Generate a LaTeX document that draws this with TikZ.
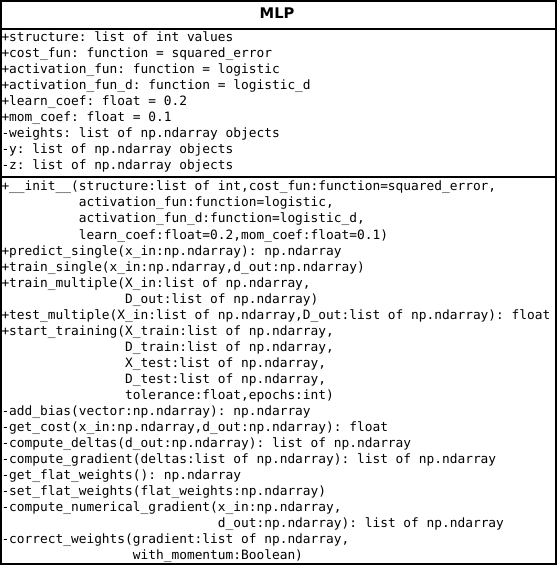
\documentclass[tikz,border=0pt]{standalone}
\usepackage{fontspec}
\setsansfont{DejaVu Sans}
\setmonofont{DejaVu Sans Mono}

\tikzset{every picture/.style={line width=0.75pt}}
\tikzset{
  classline/.style={line width=1.5pt},
  classname/.style={anchor=center, inner sep=0pt, font=\sffamily\bfseries\fontsize{11}{13}\selectfont},
  member/.style={anchor=base west, inner sep=0pt, font=\ttfamily\fontsize{9.63}{12}\selectfont}
}

\begin{document}
\begin{tikzpicture}[x=0.75pt,y=0.75pt,yscale=-1,xscale=1]
%set diagram left start at 0, and has height of 566
\path[use as bounding box] (0,0) rectangle (558,566);

%Shape: Rectangle [class box]
\draw [classline]  (1,1) -- (556,1) -- (556,564) -- (1,564) -- cycle ;
%Shape: Line [name separator]
\draw [classline]  (1,29) -- (556,29) ;
%Shape: Line [attribute separator]
\draw [classline]  (1,177) -- (556,177) ;

% Text Node
\draw (277,13.5) node [classname] (mlp) {MLP};

% Text Node
\draw (1,42) node [member] (a1) {+structure: list of int values};
% Text Node
\draw (1,58) node [member] (a2) {+cost\_fun: function = squared\_error};
% Text Node
\draw (1,74) node [member] (a3) {+activation\_fun: function = logistic};
% Text Node
\draw (1,90) node [member] (a4) {+activation\_fun\_d: function = logistic\_d};
% Text Node
\draw (1,106) node [member] (a5) {+learn\_coef: float = 0.2};
% Text Node
\draw (1,122) node [member] (a6) {+mom\_coef: float = 0.1};
% Text Node
\draw (1,138) node [member] (a7) {-weights: list of np.ndarray objects};
% Text Node
\draw (1,154) node [member] (a8) {-y: list of np.ndarray objects};
% Text Node
\draw (1,170) node [member] (a9) {-z: list of np.ndarray objects};

% Text Node
\draw (1,191) node [member] (m1) {+\_\_init\_\_(structure:list of int,cost\_fun:function=squared\_error,};
% Text Node
\draw (1,207) node [member] (m2) {\phantom{+\_\_init\_\_(}activation\_fun:function=logistic,};
% Text Node
\draw (1,223) node [member] (m3) {\phantom{+\_\_init\_\_(}activation\_fun\_d:function=logistic\_d,};
% Text Node
\draw (1,239) node [member] (m4) {\phantom{+\_\_init\_\_(}learn\_coef:float=0.2,mom\_coef:float=0.1)};
% Text Node
\draw (1,255) node [member] (m5) {+predict\_single(x\_in:np.ndarray): np.ndarray};
% Text Node
\draw (1,271) node [member] (m6) {+train\_single(x\_in:np.ndarray,d\_out:np.ndarray)};
% Text Node
\draw (1,287) node [member] (m7) {+train\_multiple(X\_in:list of np.ndarray,};
% Text Node
\draw (1,303) node [member] (m8) {\phantom{+train\_multiple(}D\_out:list of np.ndarray)};
% Text Node
\draw (1,319) node [member] (m9) {+test\_multiple(X\_in:list of np.ndarray,D\_out:list of np.ndarray): float};
% Text Node
\draw (1,335) node [member] (m10) {+start\_training(X\_train:list of np.ndarray,};
% Text Node
\draw (1,351) node [member] (m11) {\phantom{+start\_training(}D\_train:list of np.ndarray,};
% Text Node
\draw (1,367) node [member] (m12) {\phantom{+start\_training(}X\_test:list of np.ndarray,};
% Text Node
\draw (1,383) node [member] (m13) {\phantom{+start\_training(}D\_test:list of np.ndarray,};
% Text Node
\draw (1,399) node [member] (m14) {\phantom{+start\_training(}tolerance:float,epochs:int)};
% Text Node
\draw (1,415) node [member] (m15) {-add\_bias(vector:np.ndarray): np.ndarray};
% Text Node
\draw (1,431) node [member] (m16) {-get\_cost(x\_in:np.ndarray,d\_out:np.ndarray): float};
% Text Node
\draw (1,447) node [member] (m17) {-compute\_deltas(d\_out:np.ndarray): list of np.ndarray};
% Text Node
\draw (1,463) node [member] (m18) {-compute\_gradient(deltas:list of np.ndarray): list of np.ndarray};
% Text Node
\draw (1,479) node [member] (m19) {-get\_flat\_weights(): np.ndarray};
% Text Node
\draw (1,495) node [member] (m20) {-set\_flat\_weights(flat\_weights:np.ndarray)};
% Text Node
\draw (1,511) node [member] (m21) {-compute\_numerical\_gradient(x\_in:np.ndarray,};
% Text Node
\draw (1,527) node [member] (m22) {\phantom{-compute\_numerical\_gradient(}d\_out:np.ndarray): list of np.ndarray};
% Text Node
\draw (1,543) node [member] (m23) {-correct\_weights(gradient:list of np.ndarray,};
% Text Node
\draw (1,559) node [member] (m24) {\phantom{-correct\_weights(}with\_momentum:Boolean)};

\end{tikzpicture}
\end{document}
